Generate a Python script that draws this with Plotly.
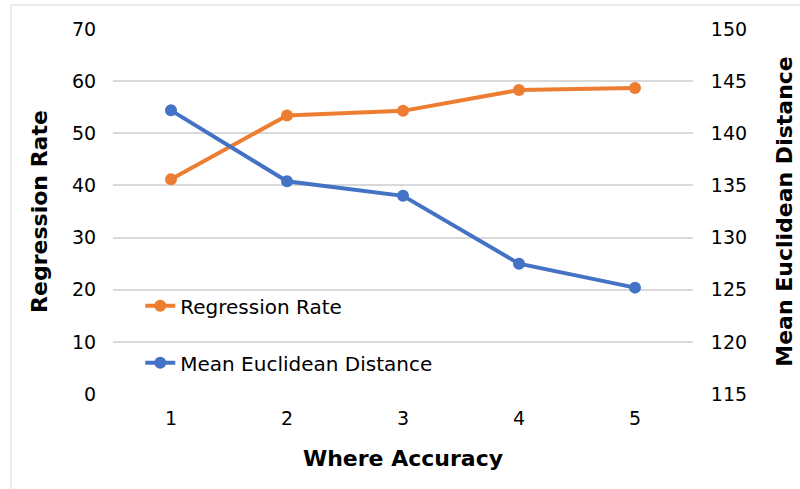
import plotly.graph_objects as go

categories = [1, 2, 3, 4, 5]
regression_rate = [41.2, 53.4, 54.3, 58.3, 58.7]
mean_euclidean = [142.2, 135.4, 134.0, 127.5, 125.2]
left_ticks = [0, 10, 20, 30, 40, 50, 60, 70]
right_ticks = [115, 120, 125, 130, 135, 140, 145, 150]

ORANGE = "#ED7D31"
BLUE = "#4472C4"
FONT = "DejaVu Sans"

fig = go.Figure()
fig.add_trace(go.Scatter(
    x=categories, y=regression_rate, name="Regression Rate",
    mode="lines+markers", line=dict(color=ORANGE, width=4),
    marker=dict(size=12, color=ORANGE), legendgroup="a", yaxis="y"))
fig.add_trace(go.Scatter(
    x=categories, y=mean_euclidean, name="Mean Euclidean Distance",
    mode="lines+markers", line=dict(color=BLUE, width=4),
    marker=dict(size=12, color=BLUE), legendgroup="b", yaxis="y2"))

fig.update_layout(
    width=800, height=489,
    margin=dict(l=113, r=107, t=29, b=95),
    paper_bgcolor="white", plot_bgcolor="white",
    font=dict(family=FONT, size=19, color="#000000"),
    showlegend=True,
    legend=dict(x=0.047, y=0.295, xanchor="left", yanchor="top",
                bgcolor="rgba(0,0,0,0)", font=dict(size=20, color="#000"),
                traceorder="grouped", tracegroupgap=28),
    xaxis=dict(range=[0.5, 5.5], tickvals=categories, showgrid=False,
               zeroline=False, showline=False, automargin=False,
               ticks="outside", ticklen=7, tickcolor="rgba(0,0,0,0)",
               title=dict(text="<b>Where Accuracy</b>", font=dict(size=22),
                          standoff=22)),
    yaxis=dict(range=[0, 70], tickvals=left_ticks, showgrid=True,
               gridcolor="#D9D9D9", gridwidth=1.5, zeroline=False,
               showline=False, ticks="outside", ticklen=12, automargin=False,
               tickcolor="rgba(0,0,0,0)",
               title=dict(text="<b>Regression Rate</b>", font=dict(size=22),
                          standoff=18)),
    yaxis2=dict(range=[115, 150], tickvals=right_ticks, overlaying="y",
                side="right", showgrid=False, zeroline=False, showline=False,
                ticks="outside", ticklen=13, tickcolor="rgba(0,0,0,0)",
                automargin=False,
                title=dict(text="<b>Mean Euclidean Distance</b>",
                           font=dict(size=22), standoff=30)),
    shapes=[dict(type="rect", xref="paper", yref="paper",
                 x0=-0.176, x1=1.4, y0=-0.5, y1=1.066,
                 line=dict(color="#D9D9D9", width=1), layer="below")],
)

fig.write_html("out.html", config={"displayModeBar": False},
               post_script="document.body.style.margin='0';document.body.style.padding='0';")
